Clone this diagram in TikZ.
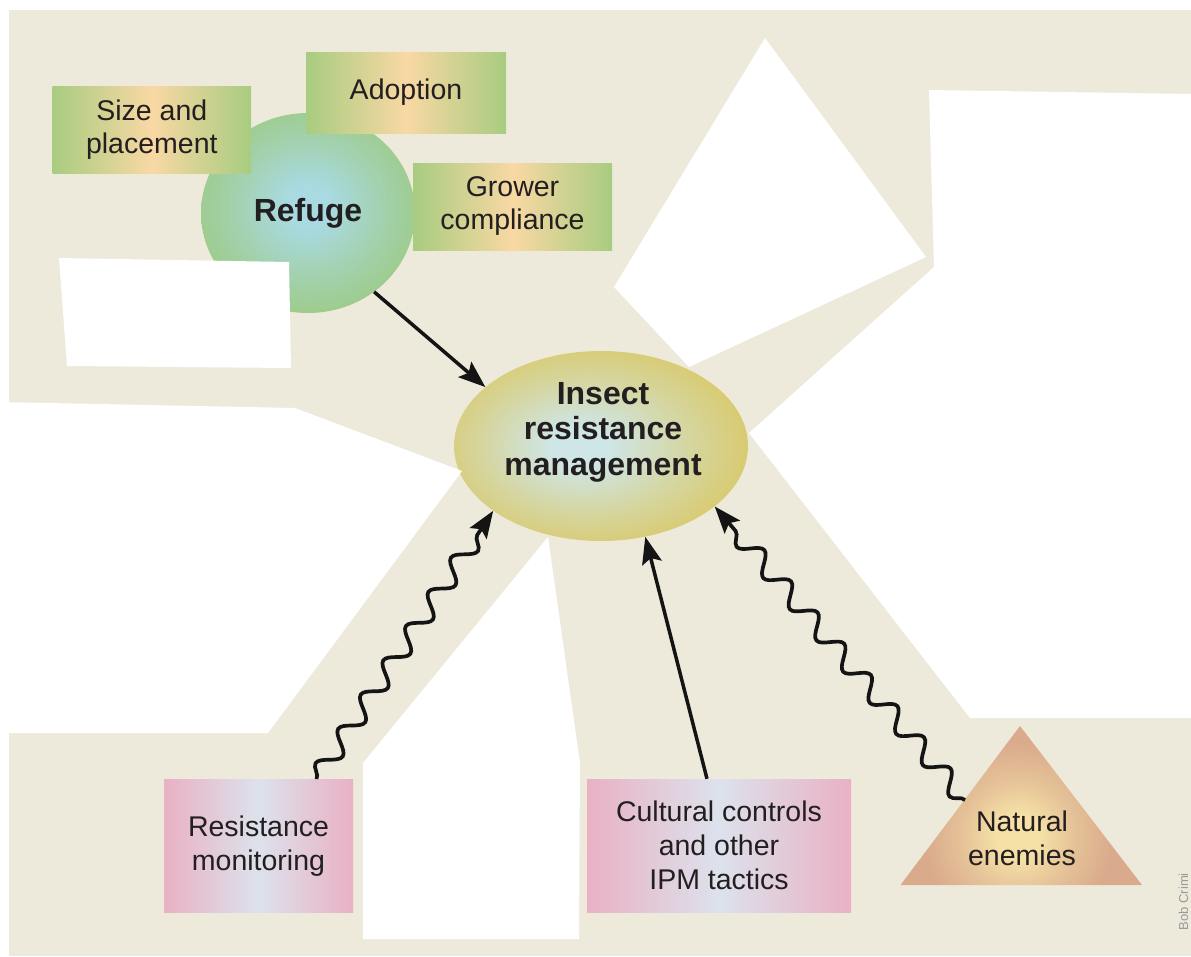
\documentclass[tikz,border=0pt]{standalone}
\usepackage{fontspec}
\setmainfont{Liberation Sans}
\usetikzlibrary{arrows.meta,decorations.pathmorphing,shapes.geometric,calc}

\definecolor{bg}{HTML}{EEEADB}
\definecolor{refin}{HTML}{A9DAE2}
\definecolor{refout}{HTML}{9BC877}
\definecolor{irmin}{HTML}{CFE6E6}
\definecolor{irmout}{HTML}{DAC762}
\definecolor{triin}{HTML}{F5E0A6}
\definecolor{triout}{HTML}{D9AA8C}
\definecolor{gedge}{HTML}{A8CC80}
\definecolor{peach}{HTML}{F9D8A4}
\definecolor{pedge}{HTML}{E9B1C4}
\definecolor{pmid}{HTML}{DCE2EC}
\definecolor{txt}{HTML}{231F20}

\pgfdeclareradialshading{refugeshade}{\pgfpoint{0bp}{2bp}}{color(0bp)=(refin); color(5bp)=(refin); color(19bp)=(refin!45!refout); color(32bp)=(refout); color(50bp)=(refout)}
\pgfdeclareradialshading{irmshade}{\pgfpoint{-4bp}{0bp}}{color(0bp)=(irmin); color(5bp)=(irmin); color(18bp)=(irmin!45!irmout); color(30bp)=(irmout); color(50bp)=(irmout)}
\pgfdeclareradialshading{trishade}{\pgfpoint{0bp}{0bp}}{color(0bp)=(triin); color(4bp)=(triin); color(10bp)=(triin!45!triout); color(17bp)=(triout); color(50bp)=(triout)}

\tikzset{
  gbox/.style={rectangle, inner sep=0pt, left color=gedge, right color=gedge, middle color=peach,
    text=txt, align=center, font=\fontsize{28.5}{33}\selectfont},
  pbox/.style={rectangle, inner sep=0pt, left color=pedge, right color=pedge, middle color=pmid,
    text=txt, align=center, font=\fontsize{28.5}{34}\selectfont},
  arr/.style={draw=black!92, line width=3.5pt, -{Stealth[length=27pt,width=20pt,inset=5pt]}},
  wavy/.style={arr, line width=3.7pt, decorate,
    decoration={snake, amplitude=9.5pt, segment length=41pt, post length=24pt}},
  lbl/.style={text=txt, align=center},
}

\begin{document}
\begin{tikzpicture}[x=1pt,y=-1pt]
\useasboundingbox (0,0) rectangle (1191,956);
% background
\fill[white] (0,0) rectangle (1191,956);
\fill[bg] (9,10) rectangle (1191,956);

% refuge cluster
\node[ellipse, shading=refugeshade, minimum width=214pt, minimum height=200pt, inner sep=0pt,
      text=txt, font=\bfseries\fontsize{32}{36}\selectfont] (refuge) at (308,213) {Refuge};
\node[gbox, minimum width=198.5pt, minimum height=87pt] (size) at (151.8,129.5) {Size and\\placement};
\node[gbox, minimum width=200pt, minimum height=81pt] (adopt) at (406,92.5) {Adoption};
\node[gbox, minimum width=199pt, minimum height=87pt] (grower) at (512.5,206.5) {Grower\\compliance};

% central ellipse
\node[ellipse, shading=irmshade, minimum width=294pt, minimum height=190pt, inner sep=0pt] (irm) at (601,446) {};
\node[lbl, font=\bfseries\fontsize{32}{35.5}\selectfont] (irmtext) at (603,432) {Insect\\resistance\\management};

% bottom boxes
\node[pbox, minimum width=189pt, minimum height=133pt] (mon) at (258.5,845.7) {Resistance\\monitoring};
\node[pbox, minimum width=264pt, minimum height=133pt] (cult) at (719,845.5) {Cultural controls\\and other\\IPM tactics};

% natural enemies triangle
\begin{scope}
  \clip (1020,726) -- (1142,885) -- (900.5,885) -- cycle;
  \shade[shading=trishade] (1018,836) circle (140);
\end{scope}
\node[lbl, font=\fontsize{28.5}{34}\selectfont] (nat) at (1022,838) {Natural\\enemies};
\coordinate (natw) at (965,800);

% connectors
\draw[arr] (refuge.-50.4) -- (irm.153.6);
\draw[wavy] ([xshift=58pt]mon.north) -- (irm.211.8);
\draw[arr] ([xshift=-12pt]cult.north) -- (irm.-64.5);
\draw[wavy] (natw) -- (irm.-28.5);

% white cut-outs
\fill[white] (59,258) -- (289,262) -- (291,368) -- (67,366) -- cycle;
\fill[white] (-1,402) -- (295,408) -- (462,471) -- (268,733) -- (-1,733) -- cycle;
\fill[white] (363,763) -- (548,537) -- (580,763) -- (579,939) -- (363,939) -- cycle;
\fill[white] (765,38) -- (926,257) -- (689,367) -- (614,287) -- cycle;
\fill[white] (929,90) -- (1192,94) -- (1192,718) -- (970,718) -- (749,433) -- (934,267) -- cycle;

% credit
\node[rotate=90, anchor=base east, inner sep=0pt, text=black!40, font=\fontsize{13}{13}\selectfont] (credit) at (1188,873) {Bob Crimi};
\end{tikzpicture}
\end{document}
